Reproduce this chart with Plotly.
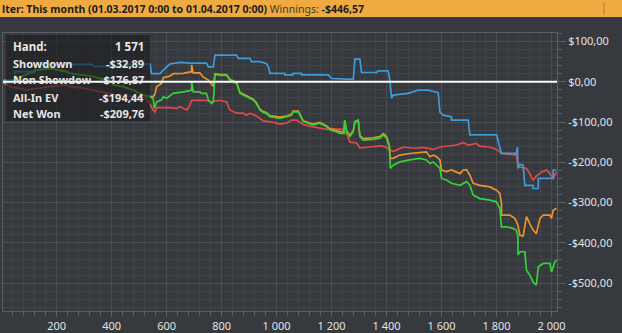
import plotly.graph_objects as go

# ---------------- data ----------------
showdown_x = [6, 10, 48, 48, 121, 121, 330, 335, 440, 467, 540, 545, 576, 582, 588, 612, 649, 685, 745, 752, 770, 776,
              855, 861, 903, 909, 939, 964, 970, 976, 1030, 1030, 1060, 1060, 1091, 1091, 1188, 1200, 1242, 1279, 1285,
              1303, 1309, 1364, 1370, 1406, 1412, 1418, 1424, 1479, 1515, 1552, 1588, 1594, 1606, 1636, 1636, 1697,
              1703, 1800, 1818, 1872, 1876, 1878, 1885, 1897, 1903, 1933, 1933, 1952, 1952, 2006, 2006, 2018]
showdown_y = [0, 4, 4, 25, 25, 43, 43, 38, 38, 44, 44, 20, 20, 25, 29, 44, 48, 46, 46, 37, 37, 66,
              66, 58, 58, 50, 50, 45, 37, 21, 21, 17, 17, 21, 21, 17, 17, 8, 6, 6, 56,
              56, 23, 23, 27, 27, 4, -41, -33, -29, -21, -21, -27, -75, -83, -87, -95, -95,
              -132, -132, -178, -178, -162, -215, -205, -207, -257, -257, -265, -265, -240, -240, -219, -219]

nonsd_x = [6, 10, 30, 91, 139, 176, 236, 248, 297, 333, 358, 394, 418, 479, 527, 551, 558, 564, 612, 636, 649, 673,
           685, 691, 745, 758, 794, 818, 830, 855, 879, 891, 903, 927, 952, 988, 1012, 1036, 1054, 1073, 1097, 1121,
           1158, 1182, 1194, 1242, 1255, 1267, 1291, 1303, 1339, 1376, 1394, 1412, 1424, 1448, 1461, 1497, 1533,
           1570, 1582, 1594, 1654, 1679, 1697, 1727, 1739, 1776, 1800, 1818, 1872, 1878, 1897, 1909, 1921, 1933,
           1945, 1964, 1982, 1994, 2006, 2018]
nonsd_y = [0, -4, -12, -20, -16, -12, -8, -12, -16, -21, -25, -29, -33, -37, -41, -70, -75, -64, -64, -66, -62, -70,
           -58, -46, -46, -50, -46, -50, -70, -78, -78, -83, -78, -85, -97, -101, -105, -103, -95, -95, -106, -110,
           -114, -118, -116, -118, -130, -150, -152, -164, -162, -159, -161, -168, -173, -166, -162, -165, -163,
           -168, -165, -162, -157, -151, -157, -153, -160, -162, -168, -178, -182, -211, -213, -215, -228, -244,
           -234, -224, -219, -228, -240, -224]

allin_x = [6, 18, 40, 60, 115, 127, 176, 236, 248, 297, 333, 358, 394, 406, 442, 479, 515, 539,
           551, 558, 564, 582, 588, 612, 624, 661, 685, 691, 691, 697, 721, 733, 752, 764, 770, 776, 794, 818, 830,
           855, 867, 891, 915, 927, 939, 952, 964, 975, 1012, 1036, 1054, 1060, 1079, 1085, 1097, 1115, 1133, 1158,
           1182, 1194, 1218, 1230, 1245, 1248, 1255, 1267, 1279, 1285, 1297, 1303, 1315, 1352, 1376, 1388, 1400,
           1410, 1414, 1424, 1448, 1485, 1521, 1545, 1558, 1570, 1582, 1594, 1600, 1618, 1636, 1667, 1679, 1691,
           1703, 1715, 1739, 1776, 1800, 1812, 1818, 1818, 1848, 1867, 1878, 1885, 1897, 1909, 1921, 1933, 1945,
           1952, 1958, 1970, 1994, 2000, 2006, 2018]
allin_y = [0, -4, -2, 10, 25, 29, 33, 25, 21, 17, 13, 8, 4, -8, -12, -21, -33, -37,
           -37, -30, -12, -4, 10, 14, 20, 21, 24, 25, 42, 22, 22, 12, 4, -8, -12, 20, 18, 18, 6,
           -2, -27, -35, -43, -52, -68, -74, -77, -84, -88, -85, -81, -73, -73, -81, -97, -101, -105, -101,
           -110, -117, -121, -124, -126, -98, -122, -133, -121, -100, -97, -133, -141, -139, -136, -129, -136,
           -158, -190, -190, -182, -178, -176, -174, -186, -182, -186, -194, -219, -223, -219, -228, -219, -218,
           -232, -252, -257, -261, -269, -277, -302, -331, -331, -339, -356, -381, -383, -335, -352, -368, -377,
           -352, -339, -331, -331, -339, -319, -314]

netwon_x = [6, 18, 40, 60, 115, 127, 176, 236, 248, 297, 333, 358, 394, 406, 442, 479, 515, 539, 551, 556, 564,
            582, 588, 600, 624, 661, 691, 691, 697, 721, 727, 745, 752, 764, 770, 776, 794, 818, 830, 855, 867, 891,
            915, 927, 939, 952, 964, 975, 1012, 1036, 1054, 1060, 1079, 1085, 1097, 1115, 1133, 1158, 1182, 1194,
            1218, 1230, 1245, 1248, 1255, 1267, 1279, 1285, 1297, 1303, 1315, 1352, 1376, 1388, 1400, 1410, 1414,
            1424, 1448, 1485, 1521, 1545, 1558, 1570, 1582, 1594, 1600, 1618, 1636, 1667, 1691, 1703, 1715, 1727,
            1739, 1776, 1800, 1812, 1818, 1836, 1860, 1872, 1878, 1878, 1885, 1903, 1909, 1921, 1933, 1945, 1952,
            1970, 1994, 2000, 2012, 2018]
netwon_y = [0, -4, -2, 10, 25, 29, 33, 25, 21, 17, 13, 8, 4, -8, -12, -21, -33, -37, -41, -66, -50,
            -45, -37, -41, -29, -25, -21, 0, -25, -25, -29, -29, -45, -54, -50, 18, 16, 16, 4, -4, -29, -37,
            -45, -54, -70, -76, -79, -87, -91, -87, -83, -75, -75, -83, -99, -103, -107, -103, -112, -120,
            -124, -128, -128, -95, -124, -136, -124, -99, -95, -136, -145, -143, -140, -132, -140, -161, -215,
            -207, -199, -194, -190, -194, -203, -199, -207, -215, -240, -244, -252, -257, -248, -257, -281, -286,
            -290, -294, -298, -314, -360, -360, -364, -368, -385, -430, -422, -422, -468, -480, -497, -505, -459,
            -451, -451, -472, -447, -443]

x_ticks = [200, 400, 600, 800, 1000, 1200, 1400, 1600, 1800, 2000]
x_labels = ["200", "400", "600", "800", "1 000", "1 200", "1 400", "1 600", "1 800", "2 000"]
y_ticks = [100, 0, -100, -200, -300, -400, -500]
y_labels = ["$100,00", "$0,00", "-$100,00", "-$200,00", "-$300,00", "-$400,00", "-$500,00"]

header_main = "lter: This month (01.03.2017 0:00 to 01.04.2017 0:00)"
header_label = "Winnings:"
header_value = "-$446,57"

tip_labels = ["Hand:", "Showdown", "Non Showdow", "All-In EV", "Net Won"]
tip_values = ["1 571", "-$32,89", "-$176,87", "-$194,44", "-$209,76"]

# ---------------- styling ----------------
BG = "#36393d"
GRID = "#4b4e53"
MINOR = "#404347"
BORDER = "#5b5e62"
TEXT = "#e2e2e2"
FONT = "Noto Sans"

W, H = 622, 333
L, R, T, B = 3, 557, 33, 311


def px(x):
    return (x - L) / (R - L)


def py(y):
    return (B - y) / (B - T)


fig = go.Figure()
series = [
    ("Non Showdown", nonsd_x, nonsd_y, "#de4a4a"),
    ("Showdown", showdown_x, showdown_y, "#3c9bd8"),
    ("All-In EV", allin_x, allin_y, "#ec922c"),
    ("Net Won", netwon_x, netwon_y, "#36d136"),
]
for name, xs, ys, col in series:
    fig.add_trace(go.Scatter(x=xs, y=ys, mode="lines", name=name,
                             line=dict(color=col, width=1.7), hoverinfo="skip"))

fig.update_layout(
    width=W, height=H,
    margin=dict(l=L, r=W - R, t=T, b=H - B, pad=0),
    paper_bgcolor=BG, plot_bgcolor=BG,
    showlegend=False,
    font=dict(family=FONT, size=11, color=TEXT),
)
fig.update_xaxes(
    range=[5, 2020], tickvals=x_ticks, ticktext=x_labels,
    showgrid=True, gridcolor=GRID, gridwidth=1,
    ticks="outside", ticklen=5, tickcolor=BORDER,
    showline=True, mirror=True, linecolor=BORDER, linewidth=1,
    zeroline=False, automargin=False, fixedrange=True,
    tickfont=dict(family=FONT, size=11, color=TEXT),
    minor=dict(dtick=40, tick0=0, showgrid=True, gridcolor=MINOR, gridwidth=1,
               ticks="outside", ticklen=4, tickcolor=BORDER),
)
fig.update_yaxes(
    side="right", range=[-569, 121], tickvals=y_ticks, ticktext=y_labels,
    showgrid=True, gridcolor=GRID, gridwidth=1,
    ticks="outside", ticklen=8, tickcolor=BORDER,
    showline=True, mirror=True, linecolor=BORDER, linewidth=1,
    zeroline=False, automargin=False, fixedrange=True,
    tickfont=dict(family=FONT, size=11, color=TEXT),
    minor=dict(dtick=20, tick0=0, showgrid=True, gridcolor=MINOR, gridwidth=1,
               ticks="outside", ticklen=4, tickcolor=BORDER),
)

shapes = [
    # header bar
    dict(type="rect", xref="paper", yref="paper", x0=px(0), x1=px(W), y0=py(17), y1=py(0),
         fillcolor="#f0aa42", line=dict(width=0), layer="above"),
    dict(type="line", xref="paper", yref="paper", x0=px(604), x1=px(604), y0=py(15), y1=py(2),
         line=dict(color="#b57d2c", width=1), layer="above"),
    # tooltip box
    dict(type="rect", xref="paper", yref="paper", x0=px(6), x1=px(150), y0=py(121), y1=py(35),
         fillcolor="rgba(28,29,31,0.62)", line=dict(width=0), layer="above"),
    # zero line
    dict(type="line", xref="paper", yref="y", x0=0, x1=1, y0=0, y1=0,
         line=dict(color="#ffffff", width=2), layer="above"),
]
fig.update_layout(shapes=shapes)

ann = [
    dict(xref="paper", yref="paper", x=px(0), y=py(9), xanchor="left", yanchor="middle",
         text="<b>%s</b> <span style='color:#4a3a20'>%s</span> <b>%s</b>" % (header_main, header_label, header_value),
         showarrow=False, font=dict(family=FONT, size=10.5, color="#1c1c1c")),
]
tip_y = [46, 64, 80, 97, 113]
for lab, val, yy in zip(tip_labels, tip_values, tip_y):
    ann.append(dict(xref="paper", yref="paper", x=px(11), y=py(yy), xanchor="left", yanchor="middle",
                    text="<b>%s</b>" % lab, showarrow=False,
                    font=dict(family=FONT, size=11.5 if lab == "Hand:" else 11, color="#e6e6e6")))
    ann.append(dict(xref="paper", yref="paper", x=px(146), y=py(yy), xanchor="right", yanchor="middle",
                    text="<b>%s</b>" % val, showarrow=False,
                    font=dict(family=FONT, size=11.5 if lab == "Hand:" else 11, color="#e6e6e6")))
fig.update_layout(annotations=ann)

fig.write_html("out.html")
